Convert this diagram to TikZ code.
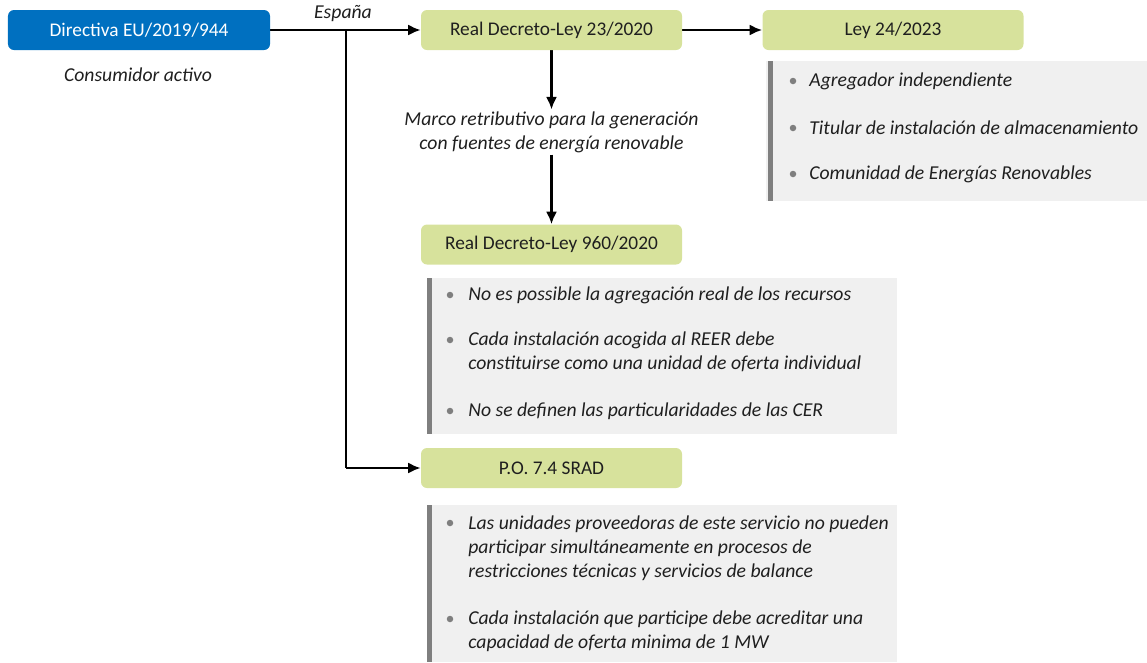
\documentclass[tikz,border=0pt]{standalone}
\usepackage{fontspec}
\setmainfont{Carlito}
\usepackage{tikz}
\usetikzlibrary{arrows.meta,backgrounds}
\definecolor{dblue}{HTML}{0070C0}
\definecolor{lgreen}{HTML}{D7E29C}
\definecolor{pgray}{HTML}{F0F0F0}
\definecolor{bgray}{HTML}{7F7F7F}
\definecolor{tgray}{HTML}{1F1F1F}
\tikzstyle{directive}=[rectangle,rounded corners=0.12cm,fill=dblue,text=white,minimum width=5.24cm,minimum height=0.8cm,font=\fontsize{11}{13}\selectfont]
\tikzstyle{law}=[rectangle,rounded corners=0.12cm,fill=lgreen,text=tgray,minimum width=5.22cm,minimum height=0.8cm,font=\fontsize{11}{13}\selectfont]
\tikzstyle{panel}=[rectangle,fill=pgray,inner sep=0pt]
\tikzstyle{bar}=[rectangle,fill=bgray,inner sep=0pt,minimum width=0.1cm]
\tikzstyle{dot}=[circle,fill=bgray,inner sep=0pt,minimum size=0.13cm]
\tikzstyle{item}=[anchor=west,align=left,inner sep=0pt,text=tgray,font=\itshape\fontsize{11.2}{13.6}\selectfont]
\tikzstyle{empty}=[inner sep=1pt,align=center,text=tgray,font=\itshape\fontsize{11.2}{13.6}\selectfont]
\tikzstyle{inarrow}=[-{Latex[length=0.25cm,width=0.22cm]},line width=1.2pt]
\tikzstyle{simple}=[-,line width=1.2pt]
\pgfdeclarelayer{edgelayer}
\pgfdeclarelayer{nodelayer}
\pgfsetlayers{edgelayer,nodelayer,main}

\begin{document}
\begin{tikzpicture}
	\useasboundingbox (0,0) rectangle (22.94,-13.24);
	\begin{pgfonlayer}{nodelayer}
		\node [style=directive] (0) at (2.78, -0.6) {Directiva EU/2019/944};
		\node [style=empty] (10) at (2.76, -1.5) {Consumidor activo};
		\node [style=empty] (11) at (6.86, -0.28) {España};
		\node [style=law] (1) at (11.03, -0.6) {Real Decreto-Ley 23/2020};
		\node [style=law] (2) at (17.86, -0.6) {Ley 24/2023};
		\node [style=empty] (5) at (11.03, -2.64) {Marco retributivo para la generación\\con fuentes de energía renovable};
		\node [style=law] (3) at (11.03, -4.89) {Real Decreto-Ley 960/2020};
		\node [style=law] (4) at (11.03, -9.36) {P.O. 7.4 SRAD};
		\coordinate (6) at (6.92, -0.6);
		\coordinate (7) at (6.92, -9.36);
		% panel Ley 24/2023
		\node [style=panel, minimum width=7.66cm, minimum height=2.8cm] (20) at (19.15, -2.62) {};
		\node [style=bar, minimum height=2.8cm] (21) at (15.41, -2.62) {};
		\node [style=dot] (22) at (15.86, -1.62) {};
		\node [style=item] (23) at (16.18, -1.62) {Agregador independiente};
		\node [style=dot] (24) at (15.86, -2.56) {};
		\node [style=item] (25) at (16.18, -2.56) {Titular de instalación de almacenamiento};
		\node [style=dot] (26) at (15.86, -3.48) {};
		\node [style=item] (27) at (16.18, -3.48) {Comunidad de Energías Renovables};
		% panel RD 960/2020
		\node [style=panel, minimum width=9.4cm, minimum height=3.12cm] (30) at (13.24, -7.12) {};
		\node [style=bar, minimum height=3.12cm] (31) at (8.59, -7.12) {};
		\node [style=dot] (32) at (9.0, -5.9) {};
		\node [style=item] (33) at (9.36, -5.9) {No es possible la agregación real de los recursos};
		\node [style=dot] (34) at (9.0, -6.8) {};
		\node [style=item] (35) at (9.36, -7.04) {Cada instalación acogida al REER debe\\constituirse como una unidad de oferta individual};
		\node [style=dot] (36) at (9.0, -8.22) {};
		\node [style=item] (37) at (9.36, -8.22) {No se definen las particularidades de las CER};
		% panel P.O. 7.4
		\node [style=panel, minimum width=9.4cm, minimum height=3.14cm] (40) at (13.24, -11.67) {};
		\node [style=bar, minimum height=3.14cm] (41) at (8.59, -11.67) {};
		\node [style=dot] (42) at (9.0, -10.46) {};
		\node [style=item] (43) at (9.36, -10.96) {Las unidades proveedoras de este servicio no pueden\\participar simultáneamente en procesos de\\restricciones técnicas y servicios de balance};
		\node [style=dot] (44) at (9.0, -12.38) {};
		\node [style=item] (45) at (9.36, -12.62) {Cada instalación que participe debe acreditar una\\capacidad de oferta minima de 1 MW};
	\end{pgfonlayer}
	\begin{pgfonlayer}{edgelayer}
		\draw [style=inarrow] (0) to (1);
		\draw [style=inarrow] (1) to (2);
		\draw [style=inarrow] (1) to (5);
		\draw [style=inarrow] (5) to (3);
		\draw [style=simple] (6) to (7);
		\draw [style=inarrow] (7) to (4);
	\end{pgfonlayer}
\end{tikzpicture}
\end{document}
